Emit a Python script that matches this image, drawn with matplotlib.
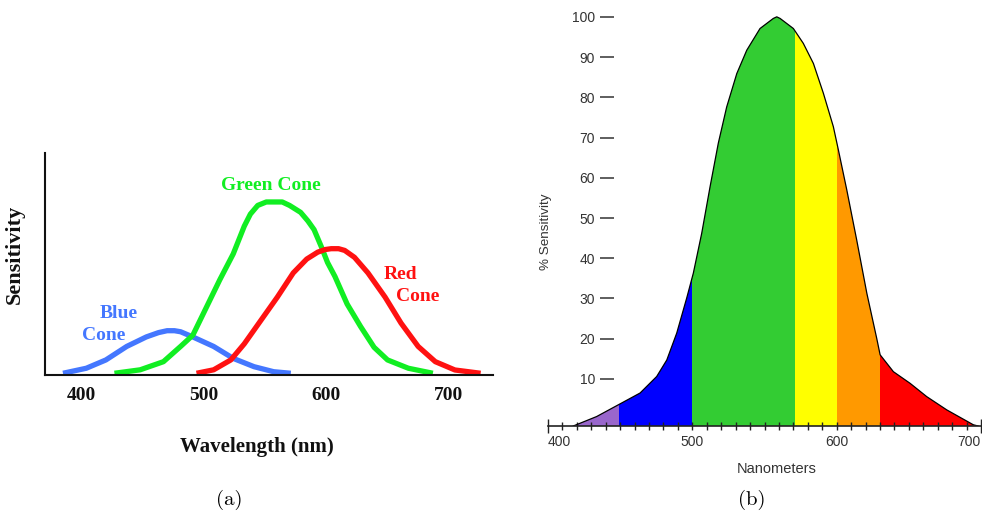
import matplotlib
matplotlib.use('Agg')
import matplotlib.pyplot as plt
from matplotlib.patches import Polygon
from matplotlib.ticker import MultipleLocator
import numpy as np

plt.rcParams['font.family'] = ['Liberation Sans', 'DejaVu Sans']

# (a) cone sensitivity curves (green peak = 1)
blue_nm = [385, 404, 420, 437, 453, 463, 470, 476, 481, 491, 508, 524, 541, 557, 571]
blue_s = [0.01, 0.039, 0.087, 0.165, 0.22, 0.245, 0.256, 0.256, 0.25, 0.22, 0.165, 0.096,
          0.048, 0.019, 0.01]
green_nm = [427, 448, 467, 481, 491, 502, 513, 524, 533, 538, 544, 551, 557, 564, 570, 579,
            585, 590, 596, 601, 607, 617, 628, 639, 650, 667, 687]
green_s = [0.01, 0.03, 0.077, 0.165, 0.23, 0.39, 0.55, 0.70, 0.86, 0.93, 0.98, 1.0, 1.0, 1.0,
           0.98, 0.94, 0.89, 0.84, 0.74, 0.65, 0.57, 0.41, 0.28, 0.16, 0.087, 0.039, 0.01]
red_nm = [494, 508, 522, 533, 546, 560, 573, 584, 593, 599, 604, 610, 615, 623, 634, 648, 661,
          675, 689, 705, 726]
red_s = [0.01, 0.03, 0.087, 0.18, 0.31, 0.45, 0.59, 0.67, 0.71, 0.725, 0.73, 0.73, 0.72, 0.68,
         0.59, 0.45, 0.30, 0.165, 0.077, 0.029, 0.01]
cone_ticks = [400, 500, 600, 700]

# (b) % sensitivity curve and spectral bands
eye_nm = [417.5, 433.7, 449.4, 463.8, 475.3, 482.3, 489.2, 496.1, 500.7, 506.5, 512.3, 518.0,
          523.8, 530.8, 537.7, 546.9, 556.1, 558.5, 560.8, 570.0, 576.9, 583.9, 590.8, 597.7,
          601.2, 607.0, 613.9, 620.9, 627.8, 630.1, 639.3, 650.9, 662.4, 676.3, 694.7, 698.0]
eye_s = [-1.7, 0.65, 3.7, 6.5, 10.6, 14.7, 21.4, 30.1, 36.3, 46.2, 57.8, 68.6,
         77.6, 85.9, 91.7, 97.1, 99.6, 100, 99.6, 97.1, 93.4, 88.4, 81.0, 72.7,
         66.9, 57.0, 44.5, 31.3, 20, 16, 11.8, 8.9, 5.6, 2.3, -1.4, -1.7]
band_edges = [400, 449, 500, 571, 600, 630, 700]
band_colors = ['#9966cc', '#0000ff', '#33cc33', '#ffff00', '#ff9900', '#ff0000']
pct_ticks = [10, 20, 30, 40, 50, 60, 70, 80, 90, 100]
nm_ticks = [400, 500, 600, 700]

fig = plt.figure(figsize=(9.82, 5.18), dpi=100)
fig.patch.set_facecolor('white')

# ---- left panel
serif = dict(family=['Liberation Serif', 'DejaVu Serif'], fontweight='bold')
ax1 = fig.add_axes([45 / 982, 143 / 518, 448 / 982, 222 / 518])
ax1.set_xlim(370.3, 736.1)
ax1.set_ylim(0, 1.283)
for x, y, c in [(blue_nm, blue_s, '#4477ff'), (green_nm, green_s, '#11ee22'), (red_nm, red_s, '#ff1111')]:
    ax1.plot(x, y, color=c, lw=3.8, solid_capstyle='butt', solid_joinstyle='round')
for s in ['top', 'right']:
    ax1.spines[s].set_visible(False)
for s in ['left', 'bottom']:
    ax1.spines[s].set_linewidth(1.5)
    ax1.spines[s].set_color('#111111')
ax1.set_yticks([])
ax1.set_xticks(cone_ticks)
ax1.set_xticklabels([str(t) for t in cone_ticks], fontsize=14, color='#111111', **serif)
ax1.tick_params(axis='x', length=0, pad=9)
ax1.set_ylabel('Sensitivity', fontsize=16, color='#111111', **serif)
ax1.yaxis.set_label_coords(-0.045, 0.545)
ax1.set_xlabel('Wavelength (nm)', fontsize=15, color='#111111', **serif)
ax1.xaxis.set_label_coords(0.473, -0.279)
ax1.text(554.7, 1.098, 'Green Cone', color='#11ee22', fontsize=14, ha='center', va='center', **serif)
ax1.text(660.3, 0.578, 'Red', color='#ff1111', fontsize=14, ha='center', va='center', **serif)
ax1.text(674.2, 0.451, 'Cone', color='#ff1111', fontsize=14, ha='center', va='center', **serif)
ax1.text(430.2, 0.357, 'Blue', color='#4477ff', fontsize=14, ha='center', va='center', **serif)
ax1.text(418.0, 0.231, 'Cone', color='#4477ff', fontsize=14, ha='center', va='center', **serif)

# ---- right panel
ax2 = fig.add_axes([548 / 982, 92 / 518, 433 / 982, 416 / 518])
ax2.set_xlim(400, 700)
ax2.set_ylim(-1.7, 101.7)
shape = Polygon(np.column_stack([eye_nm, eye_s]), closed=True, facecolor='none', edgecolor='none')
ax2.add_patch(shape)
for lo, hi, c in zip(band_edges[:-1], band_edges[1:], band_colors):
    span = ax2.axvspan(lo, hi, color=c, lw=0)
    span.set_clip_path(shape)
ax2.plot(eye_nm, eye_s, color='black', lw=0.9, solid_joinstyle='round')

for s in ['top', 'right']:
    ax2.spines[s].set_visible(False)
ax2.spines['left'].set_position(('data', 445.7))
ax2.spines['left'].set_visible(False)
ax2.spines['bottom'].set_linewidth(1.2)
ax2.spines['bottom'].set_color('#222222')

ax2.set_yticks(pct_ticks)
ax2.tick_params(axis='y', direction='out', length=10, width=1.1, color='#333333',
                labelsize=10, labelcolor='#333333', pad=3.5)
ax2.set_xticks(nm_ticks)
ax2.xaxis.set_minor_locator(MultipleLocator(10))
ax2.tick_params(axis='x', which='both', direction='inout', length=5.5, width=1.0,
                color='#222222', labelsize=10, labelcolor='#333333', pad=4)
majors = ax2.xaxis.get_major_ticks()
majors[0].tick1line.set_markersize(10)
majors[-1].tick1line.set_markersize(10)
majors[0].label1.set_horizontalalignment('left')
majors[-1].label1.set_horizontalalignment('right')

ax2.set_ylabel('% Sensitivity', fontsize=9.7, color='#333333')
ax2.yaxis.set_label_coords(0.0085, 0.466)
ax2.set_xlabel('Nanometers', fontsize=10.5, color='#333333')
ax2.xaxis.set_label_coords(0.529, -0.086)

# captions
fig.text(229 / 982, 1 - 500 / 518, '(a)', family='cmr10', fontsize=15, ha='center', va='center')
fig.text(752 / 982, 1 - 500 / 518, '(b)', family='cmr10', fontsize=15, ha='center', va='center')

plt.savefig('out.png', dpi=100)
